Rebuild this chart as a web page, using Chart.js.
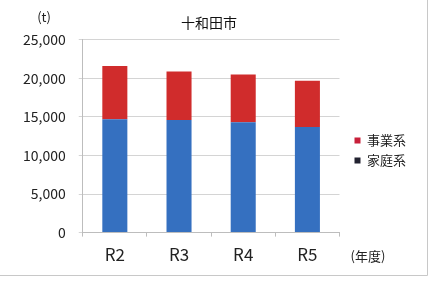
<!DOCTYPE html>
<html>
<head>
<meta charset="utf-8">
<script src="https://cdn.jsdelivr.net/npm/chart.js@4"></script>
<style>
  html, body { margin: 0; padding: 0; background: #fff; }
  #wrap { width: 430px; height: 281px; }
</style>
</head>
<body>
<div id="wrap"><canvas id="myChart" width="430" height="281"></canvas></div>
<script>
const years = ['R2', 'R3', 'R4', 'R5'];
const katei = [14700, 14600, 14300, 13700];   // 家庭系
const jigyo = [6900, 6300, 6200, 6000];       // 事業系
const yTicks = [0, 5000, 10000, 15000, 20000, 25000];

const FONT = '"Noto Sans CJK JP", "Noto Sans", sans-serif';
const ctx = document.getElementById('myChart');

// extra labels + scanned frame, legend nudged like the excel one
const extras = {
  id: 'extras',
  afterLayout(chart) {
    const lg = chart.legend;
    lg.left += 8; lg.right += 8;
    lg.top += 14; lg.bottom += 14;
  },
  beforeDraw(chart) {
    const c = chart.ctx;
    c.save();
    c.fillStyle = '#fff';
    c.fillRect(0, 0, chart.width, chart.height);
    c.strokeStyle = '#c8c8c8';
    c.lineWidth = 1;
    c.beginPath();
    c.moveTo(427.5, 0);
    c.lineTo(427.5, 275.5);
    c.lineTo(0, 275.5);
    c.stroke();
    c.restore();
  },
  afterDraw(chart) {
    const c = chart.ctx;
    c.save();
    c.fillStyle = '#222';
    c.font = '13px ' + FONT;
    c.textAlign = 'center';
    c.textBaseline = 'middle';
    c.fillText('(t)', 44, 17);
    c.fillText('(年度)', 368, 256);
    c.restore();
  }
};

new Chart(ctx, {
  type: 'bar',
  data: {
    labels: years,
    datasets: [
      {
        label: '家庭系',
        data: katei,
        backgroundColor: '#3570c0',
        legendColor: '#222230'
      },
      {
        label: '事業系',
        data: jigyo,
        backgroundColor: '#d02c2c',
        legendColor: '#c8203a'
      }
    ]
  },
  options: {
    responsive: false,
    animation: false,
    layout: { padding: { left: 10, right: 22, top: 0, bottom: 8 } },
    datasets: { bar: { barPercentage: 0.39, categoryPercentage: 1 } },
    scales: {
      x: {
        stacked: true,
        offset: true,
        grid: { drawOnChartArea: false, drawTicks: true, tickLength: 4, color: '#bdbdbd', offset: true },
        border: { color: '#bdbdbd' },
        ticks: { color: '#222', padding: 8, font: { family: FONT, size: 17 } }
      },
      y: {
        stacked: true,
        min: 0,
        max: 25000,
        afterBuildTicks(axis) { axis.ticks = yTicks.map(v => ({ value: v })); },
        grid: { color: '#d4d4d4', tickLength: 4 },
        border: { color: '#bdbdbd' },
        ticks: {
          color: '#222',
          padding: 13,
          font: { family: FONT, size: 14 },
          callback: v => v.toLocaleString('en-US')
        }
      }
    },
    plugins: {
      title: {
        display: true,
        text: '十和田市',
        color: '#111',
        font: { family: FONT, size: 14, weight: 'normal' },
        padding: { top: 14, bottom: 9 }
      },
      legend: {
        position: 'right',
        reverse: true,
        labels: {
          boxWidth: 6,
          boxHeight: 6,
          color: '#222',
          padding: 7,
          font: { family: FONT, size: 13 },
          generateLabels(chart) {
            const items = Chart.defaults.plugins.legend.labels.generateLabels(chart);
            items.forEach(it => {
              const ds = chart.data.datasets[it.datasetIndex];
              it.fillStyle = ds.legendColor;
              it.strokeStyle = ds.legendColor;
              it.lineWidth = 0;
            });
            return items;
          }
        }
      },
      tooltip: { enabled: false }
    }
  },
  plugins: [extras]
});
</script>
</body>
</html>
